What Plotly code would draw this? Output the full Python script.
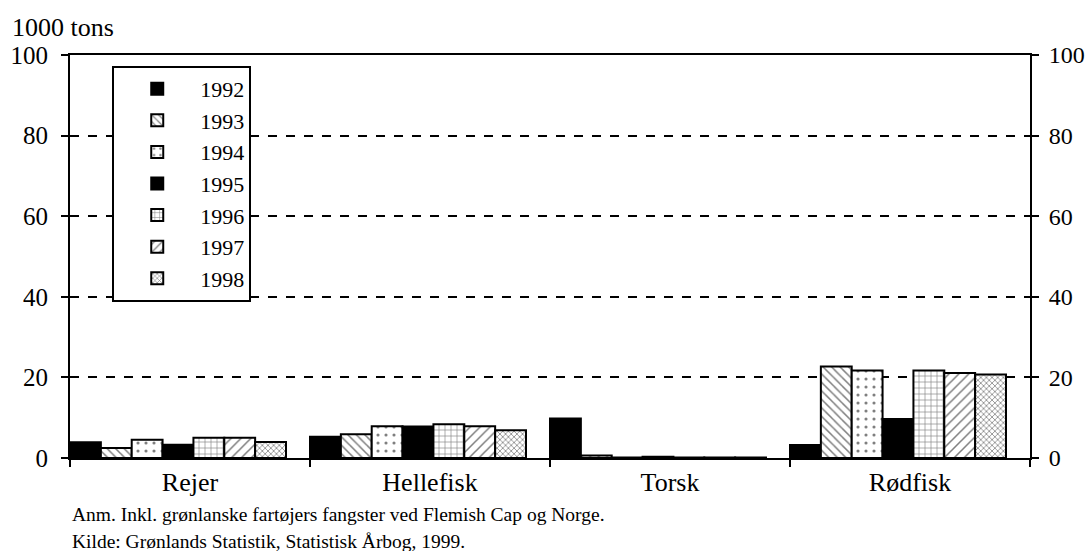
import plotly.graph_objects as go

categories = ["Rejer", "Hellefisk", "Torsk", "Rødfisk"]
years = ["1992", "1993", "1994", "1995", "1996", "1997", "1998"]
v1992 = [3.9, 5.3, 9.8, 3.2]
v1993 = [2.5, 5.9, 0.6, 22.7]
v1994 = [4.5, 7.9, 0.1, 21.7]
v1995 = [3.3, 7.8, 0.3, 9.7]
v1996 = [5.0, 8.4, 0.1, 21.7]
v1997 = [5.0, 7.9, 0.1, 21.1]
v1998 = [4.0, 6.9, 0.1, 20.7]
values = [v1992, v1993, v1994, v1995, v1996, v1997, v1998]

patterns = ["", "\\", ".", "", "+", "/", "x"]
colors = ["black", "white", "white", "black", "white", "white", "white"]
psize = [8, 6, 8, 8, 6, 7, 4]
psol = [0.2, 0.25, 0.12, 0.2, 0.2, 0.22, 0.35]

FONT = "Liberation Serif, Times New Roman, serif"
fig = go.Figure()
n = len(years)
w = 0.9 / n
for i, (yr, vals) in enumerate(zip(years, values)):
    fig.add_trace(go.Bar(
        x=categories, y=vals, name=yr,
        width=w, offset=-0.5 + i * w,
        marker=dict(color=colors[i],
                    line=dict(color="black", width=2),
                    pattern=dict(shape=patterns[i], fgcolor="black", bgcolor=colors[i],
                                 size=psize[i], solidity=psol[i])),
    ))
# invisible trace for right axis
fig.add_trace(go.Scatter(x=categories, y=[0, 0, 0, 0], yaxis="y2", mode="markers",
                         marker=dict(opacity=0), showlegend=False, hoverinfo="skip"))

fig.update_layout(
    width=1088, height=551,
    barmode="overlay",
    plot_bgcolor="white", paper_bgcolor="white",
    margin=dict(l=70, r=58, t=55, b=93, autoexpand=False),
    font=dict(family=FONT, size=24, color="black"),
    xaxis=dict(type="category", showline=True, linecolor="black", linewidth=2,
               mirror=True, ticks="outside", tickson="boundaries", ticklen=7,
               tickwidth=2, tickcolor="black", showgrid=False, tickfont=dict(size=26)),
    yaxis=dict(range=[0, 100], dtick=20, showline=True, linecolor="black", linewidth=2,
               ticks="outside", ticklen=7, tickwidth=2, tickcolor="black",
               showgrid=True, gridcolor="black", gridwidth=2, griddash="dash",
               zeroline=False, ticklabelstandoff=8, tickfont=dict(size=25)),
    yaxis2=dict(range=[0, 100], dtick=20, overlaying="y", side="right", showline=True,
                linecolor="black", linewidth=2, ticks="outside", ticklen=7, tickwidth=2,
                tickcolor="black", showgrid=False, zeroline=False, ticklabelstandoff=5,
                tickfont=dict(size=24)),
    legend=dict(x=0.044, y=0.973, xanchor="left", yanchor="top",
                bordercolor="black", borderwidth=2, bgcolor="white",
                font=dict(size=22), tracegroupgap=0, itemwidth=76),
    showlegend=True,
)
fig.add_annotation(text="1000 tons", xref="paper", yref="paper", x=-0.0625, y=1.069,
                   xanchor="left", yanchor="middle", showarrow=False, font=dict(size=26))
fig.add_annotation(text="Anm. Inkl. grønlanske fartøjers fangster ved Flemish Cap og Norge.",
                   xref="paper", yref="paper", x=0.0, y=-0.141, xanchor="left",
                   yanchor="middle", showarrow=False, font=dict(size=19.5))
fig.add_annotation(text="Kilde: Grønlands Statistik, Statistisk Årbog, 1999.",
                   xref="paper", yref="paper", x=0.0, y=-0.206, xanchor="left",
                   yanchor="middle", showarrow=False, font=dict(size=19.5))
fig.write_html("out.html", config={"displayModeBar": False},
               post_script="document.body.style.margin='0';document.body.style.overflow='hidden';")
